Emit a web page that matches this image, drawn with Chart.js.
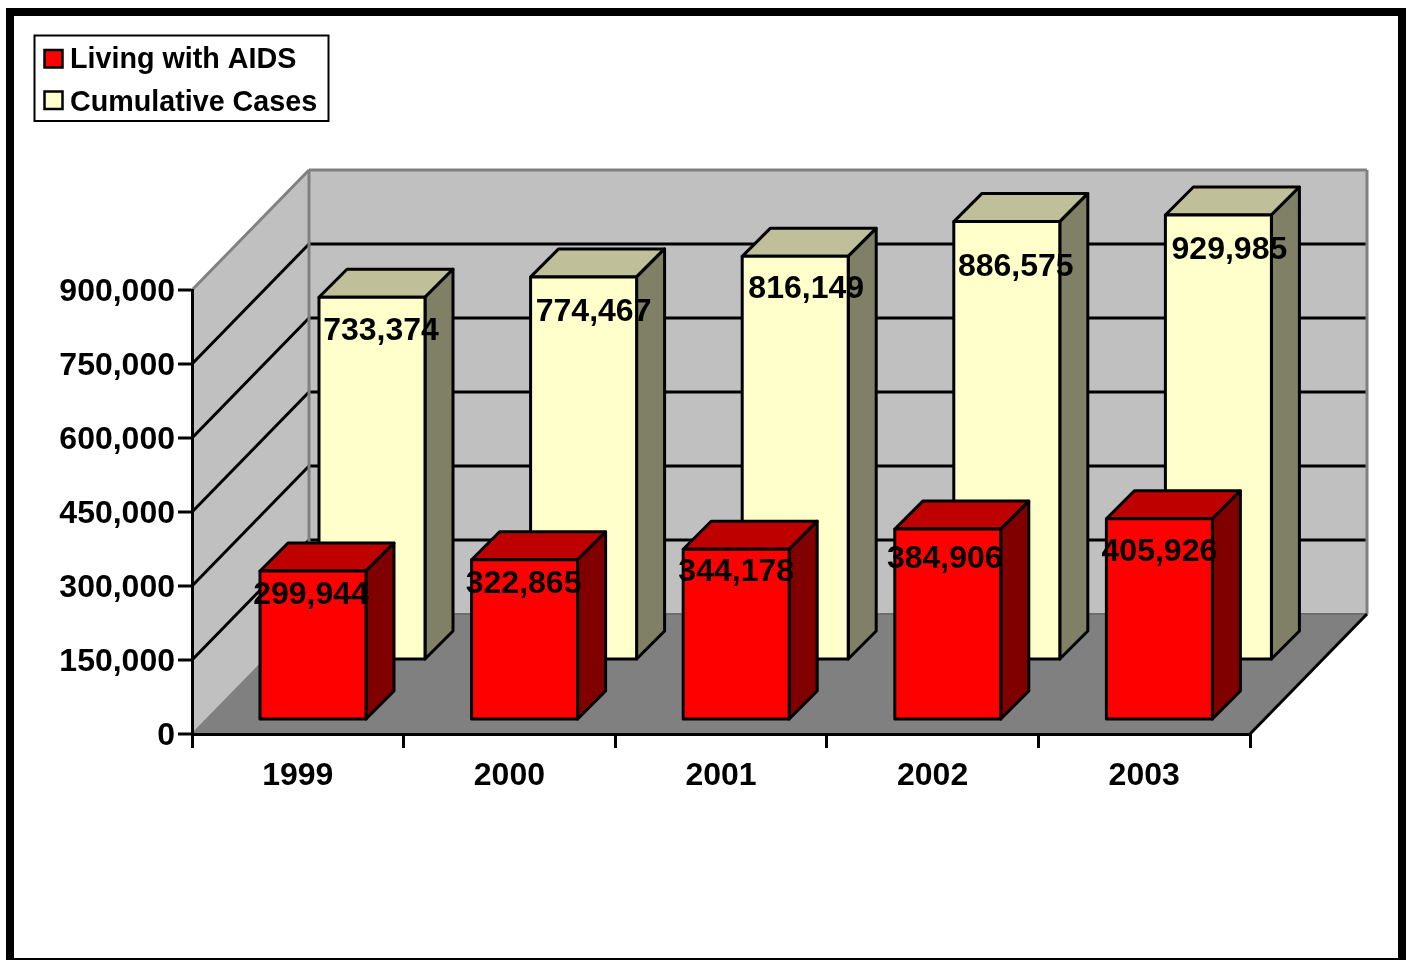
<!DOCTYPE html>
<html><head><meta charset="utf-8">
<style>html,body{margin:0;padding:0;background:#fff}canvas{display:block}</style>
<script src="https://cdn.jsdelivr.net/npm/chart.js@4"></script>
</head><body>
<canvas id="c" width="1408" height="960" style="width:1408px;height:960px"></canvas>
<script>
const categories = ['1999','2000','2001','2002','2003'];
const livingWithAids = [299944,322865,344178,384906,405926];
const cumulativeCases = [733374,774467,816149,886575,929985];
const yTickMax = 900000;
const yTickStep = 150000;

// layout and style constants
const FONT = '"Liberation Sans", Arial, sans-serif';
const WALL = {dx:117, dy:120};
const BAR_DEPTH = 28;
const BAR_CLIP = {left:120, right:120, top:0, bottom:0};
const STYLES = [
  {shiftX:15.2, shiftY:15, front:'#FF0000', top:'#BF0000', side:'#800000',
   labelDx:[-2,-1,0,-3,0], labelDy:[24,24,23,30,33]},
  {shiftX:74.2, shiftY:75, front:'#FFFFCC', top:'#BFBF99', side:'#808066',
   labelDx:[9,10,11,9,11], labelDy:[34,35,33,46,35]}
];

function poly(ctx, pts, fill, stroke, lw){
  ctx.beginPath();
  pts.forEach((p,i)=> i?ctx.lineTo(p[0],p[1]):ctx.moveTo(p[0],p[1]));
  ctx.closePath();
  if(fill){ctx.fillStyle=fill;ctx.fill();}
  if(stroke){ctx.strokeStyle=stroke;ctx.lineWidth=lw;ctx.lineJoin='round';ctx.stroke();}
}
function line(ctx,x1,y1,x2,y2,c,lw){
  ctx.beginPath();ctx.moveTo(x1,y1);ctx.lineTo(x2,y2);ctx.strokeStyle=c;ctx.lineWidth=lw;ctx.stroke();
}
function barBox(chart,b){
  const p=b.getProps(['x','y','base','width'],true);
  return {L:p.x-p.width/2,R:p.x+p.width/2,T:Math.max(p.y,chart.chartArea.top),B:p.base,cx:p.x};
}

const frame3d = {
  id:'frame3d',
  beforeDraw(chart){
    const ctx=chart.ctx, {left,right,top,bottom}=chart.chartArea, ys=chart.scales.y;
    ctx.save();
    ctx.fillStyle='#fff';ctx.fillRect(0,0,1408,960);
    ctx.fillStyle='#000';
    ctx.fillRect(6,8,1400,8);ctx.fillRect(6,8,8,952);ctx.fillRect(1398,8,8,952);ctx.fillRect(6,958,1400,2);
    const dx=WALL.dx, dy=WALL.dy;
    poly(ctx,[[left,bottom],[left+dx,bottom-dy],[left+dx,top-dy],[left,top]],'#C0C0C0');
    poly(ctx,[[left+dx,bottom-dy],[right+dx,bottom-dy],[right+dx,top-dy],[left+dx,top-dy]],'#C0C0C0');
    poly(ctx,[[left,bottom],[right,bottom],[right+dx,bottom-dy],[left+dx,bottom-dy]],'#808080');
    ys.ticks.forEach(t=>{
      if(t.value===0||t.value===yTickMax) return;
      const y=ys.getPixelForValue(t.value);
      line(ctx,left,y,left+dx,y-dy,'#000',3);
      line(ctx,left+dx,y-dy,right+dx,y-dy,'#000',3);
    });
    line(ctx,left,top,left+dx,top-dy,'#808080',3);
    line(ctx,left+dx,top-dy,right+dx,top-dy,'#808080',3);
    line(ctx,left+dx,top-dy,left+dx,bottom-dy,'#808080',3);
    line(ctx,right+dx,top-dy,right+dx,bottom-dy,'#808080',3);
    line(ctx,left,bottom,left+dx,bottom-dy,'#808080',1.5);
    line(ctx,left+dx,bottom-dy,right+dx,bottom-dy,'#6E6E6E',2);
    line(ctx,right,bottom,right+dx,bottom-dy,'#000',3);
    ctx.restore();
  },
  beforeDatasetDraw(chart,args){
    const ctx=chart.ctx, st=STYLES[args.index], d=BAR_DEPTH;
    ctx.save();
    ctx.translate(st.shiftX,-st.shiftY);
    chart.getDatasetMeta(args.index).data.forEach(b=>{
      const {L,R,T,B}=barBox(chart,b);
      poly(ctx,[[L,T],[L+d,T-d],[R+d,T-d],[R,T]],st.top,'#000',3);
      poly(ctx,[[R,T],[R+d,T-d],[R+d,B-d],[R,B]],st.side,'#000',3);
    });
  },
  afterDatasetDraw(chart,args){
    const ctx=chart.ctx;
    chart.getDatasetMeta(args.index).data.forEach(b=>{
      const {L,R,T,B}=barBox(chart,b);
      poly(ctx,[[L,T],[R,T],[R,B],[L,B]],null,'#000',3);
    });
    ctx.restore();
  },
  afterDatasetsDraw(chart){
    const ctx=chart.ctx;
    ctx.save();
    ctx.font='bold 32px '+FONT;
    ctx.textAlign='center';ctx.textBaseline='middle';ctx.fillStyle='#000';
    chart.data.datasets.forEach((ds,i)=>{
      const st=STYLES[i];
      chart.getDatasetMeta(i).data.forEach((b,j)=>{
        const {T,cx}=barBox(chart,b);
        ctx.fillText(ds.data[j].toLocaleString('en-US'),cx+st.shiftX+st.labelDx[j],T-st.shiftY+st.labelDy[j]);
      });
    });
    // legend
    ctx.strokeStyle='#000';ctx.lineWidth=2;ctx.strokeRect(34.5,35.5,294,85.5);
    ctx.font='bold 28.7px '+FONT;ctx.textAlign='left';
    chart.data.datasets.forEach((ds,i)=>{
      const y=50+i*41.5;
      ctx.fillStyle=ds.backgroundColor;ctx.fillRect(44.5,y,18,17.5);
      ctx.strokeStyle='#000';ctx.lineWidth=2.5;ctx.strokeRect(44.5,y,18,17.5);
      ctx.fillStyle='#000';ctx.fillText(ds.label,70,60+i*43);
    });
    ctx.restore();
  }
};

new Chart(document.getElementById('c'),{
  type:'bar',
  data:{labels:categories,datasets:[
    {label:'Living with AIDS',data:livingWithAids,backgroundColor:STYLES[0].front,borderColor:'#000',borderWidth:0,barThickness:106,clip:BAR_CLIP},
    {label:'Cumulative Cases',data:cumulativeCases,backgroundColor:STYLES[1].front,borderColor:'#000',borderWidth:0,barThickness:106,clip:BAR_CLIP}
  ]},
  plugins:[frame3d],
  options:{
    responsive:false,animation:false,devicePixelRatio:1,
    layout:{padding:{left:0,top:290,right:158,bottom:0}},
    plugins:{legend:{display:false},tooltip:{enabled:false},title:{display:false}},
    font:{family:FONT},
    scales:{
      x:{stacked:true,
        afterFit(s){s.height=226;},
        border:{color:'#000',width:3},
        grid:{offset:true,drawOnChartArea:false,drawTicks:true,tickLength:14,color:'#000',lineWidth:3},
        ticks:{color:'#000',padding:8.6,maxRotation:0,font:{family:FONT,size:32,weight:'bold'}}
      },
      y:{min:0,max:yTickMax,
        afterFit(s){s.width=192;},
        border:{color:'#000',width:3},
        grid:{drawOnChartArea:false,drawTicks:true,tickLength:14,lineWidth:0,tickWidth:3,tickColor:'#000'},
        ticks:{stepSize:yTickStep,color:'#000',padding:3,labelOffset:2,font:{family:FONT,size:32,weight:'bold'},
          callback:v=>v.toLocaleString('en-US')}
      }
    }
  }
});
</script>
</body></html>
